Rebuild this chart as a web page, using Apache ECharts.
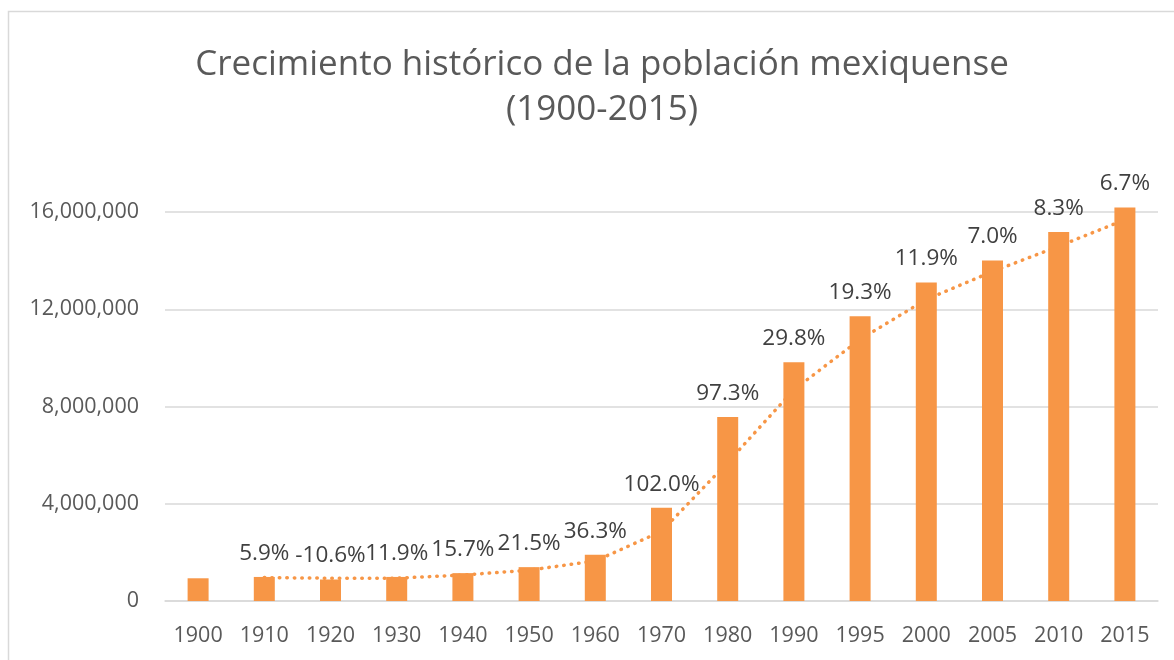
<!DOCTYPE html>
<html>
<head>
<meta charset="utf-8">
<script src="https://cdn.jsdelivr.net/npm/echarts@6/dist/echarts.min.js"></script>
<style>
  html, body { margin: 0; padding: 0; background: #fff; }
  #chart { width: 1174px; height: 660px; }
</style>
</head>
<body>
<div id="chart"></div>
<script>
// años censales
const years = ["1900", "1910", "1920", "1930", "1940", "1950", "1960", "1970",
  "1980", "1990", "1995", "2000", "2005", "2010", "2015"];
// población total del Estado de México
const population = [934463, 989510, 884617, 990112, 1146034, 1392623, 1897851, 3833185,
  7564335, 9815795, 11707964, 13096686, 14007495, 15175862, 16187608];
// etiquetas de crecimiento sobre cada barra
const growth = ["", "5.9%", "-10.6%", "11.9%", "15.7%", "21.5%", "36.3%", "102.0%",
  "97.3%", "29.8%", "19.3%", "11.9%", "7.0%", "8.3%", "6.7%"];
// línea de tendencia punteada (media móvil)
const trend = [null, 962000, 937000, 937400, 1068000, 1269000, 1645000, 2866000,
  5699000, 8690000, 10762000, 12402000, 13552000, 14592000, 15682000];

const chart = echarts.init(document.getElementById("chart"));
const font = "'Open Sans', 'Noto Sans', sans-serif";

chart.setOption({
  animation: false,
  textStyle: { fontFamily: font },
  title: {
    text: "Crecimiento histórico de la población mexiquense\n(1900-2015)",
    left: 597,
    textAlign: "center",
    top: 38,
    textStyle: {
      fontFamily: font,
      fontSize: 35,
      fontWeight: "normal",
      color: "#595959",
      lineHeight: 45
    }
  },
  graphic: [{
    type: "rect",
    shape: { x: 8.5, y: 11.5, width: 1200, height: 700 },
    style: { fill: "none", stroke: "#d9d9d9", lineWidth: 1.5 },
    silent: true
  }],
  grid: { left: 165, right: 16, top: 212, bottom: 59 },
  xAxis: {
    type: "category",
    data: years,
    axisTick: { show: false },
    axisLine: { lineStyle: { color: "#d9d9d9", width: 1.5 } },
    axisLabel: { color: "#595959", fontSize: 21.5, margin: 24, fontFamily: font }
  },
  yAxis: {
    type: "value",
    min: 0,
    max: 16000000,
    interval: 4000000,
    axisLine: { show: false },
    axisTick: { show: false },
    splitLine: { lineStyle: { color: "#d9d9d9", width: 1.5 } },
    axisLabel: {
      color: "#595959",
      fontSize: 21.5,
      margin: 26,
      fontFamily: font,
      formatter: v => v.toLocaleString("en-US")
    }
  },
  series: [
    {
      type: "line",
      data: trend,
      z: 1,
      symbol: "none",
      smooth: false,
      lineStyle: { color: "#F79646", width: 3.5, type: [0.5, 7], cap: "round" }
    },
    {
      type: "bar",
      data: population,
      z: 2,
      clip: false,
      barWidth: 21,
      itemStyle: { color: "#F79646" },
      label: {
        show: true,
        position: "top",
        distance: 12,
        color: "#404040",
        fontSize: 22.5,
        fontFamily: font,
        formatter: p => growth[p.dataIndex]
      }
    }
  ]
});
</script>
</body>
</html>
